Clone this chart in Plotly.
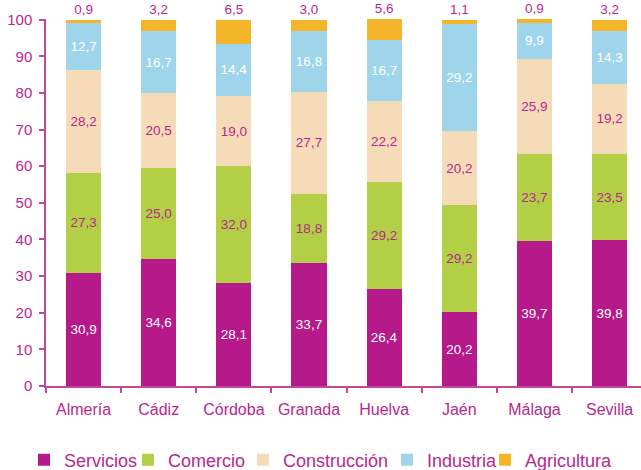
import plotly.graph_objects as go

provinces = ["Almería", "Cádiz", "Córdoba", "Granada", "Huelva", "Jaén", "Málaga", "Sevilla"]
servicios = [30.9, 34.6, 28.1, 33.7, 26.4, 20.2, 39.7, 39.8]
comercio = [27.3, 25.0, 32.0, 18.8, 29.2, 29.2, 23.7, 23.5]
construccion = [28.2, 20.5, 19.0, 27.7, 22.2, 20.2, 25.9, 19.2]
industria = [12.7, 16.7, 14.4, 16.8, 16.7, 29.2, 9.9, 14.3]
agricultura = [0.9, 3.2, 6.5, 3.0, 5.6, 1.1, 0.9, 3.2]

TXT = "#B8278F"
AX = "#C2489E"
FONT = "Liberation Sans, Arial, sans-serif"

series = [
    ("Servicios", servicios, "#B5198A", "white", "inside"),
    ("Comercio", comercio, "#B2CF46", TXT, "inside"),
    ("Construcción", construccion, "#F5DBB8", TXT, "inside"),
    ("Industria", industria, "#9ED5EB", "white", "inside"),
    ("Agricultura", agricultura, "#F4B52B", TXT, "outside"),
]

legend_text_px = [65, 169, 284, 428, 526]

fig = go.Figure()
for i, (name, vals, color, tcol, tpos) in enumerate(series):
    lg = "legend" if i == 0 else f"legend{i+1}"
    fig.add_trace(go.Bar(
        x=provinces, y=vals, name=name,
        marker=dict(color=color, line=dict(width=0)),
        text=[f"{v:.1f}".replace(".", ",") for v in vals],
        textposition=tpos,
        insidetextanchor="middle",
        textangle=0,
        constraintext="none",
        textfont=dict(color=tcol, size=13.5, family=FONT),
        cliponaxis=False,
        width=0.467,
        legend=lg,
        hoverinfo="skip",
    ))

layout_legends = {}
for i, px in enumerate(legend_text_px):
    key = "legend" if i == 0 else f"legend{i+1}"
    layout_legends[key] = dict(
        xref="container", yref="container",
        x=(px - 41) / 641, y=1 - 460 / 470,
        xanchor="left", yanchor="middle",
        orientation="h",
        font=dict(size=18, color=TXT, family=FONT),
        bgcolor="rgba(0,0,0,0)",
        borderwidth=0,
    )

fig.update_layout(
    barmode="stack",
    width=641, height=470,
    margin=dict(l=46, r=0, t=19, b=84),
    paper_bgcolor="white", plot_bgcolor="white",
    font=dict(family=FONT, color=TXT),
    showlegend=True,
    **layout_legends,
)

fig.update_xaxes(
    type="category",
    range=[-0.5, 7.418],
    automargin=False,
    showline=True, linecolor=AX, linewidth=1.5,
    ticks="outside", tickson="boundaries", ticklen=5, tickcolor=AX, tickwidth=1.5,
    tickfont=dict(size=16, color=TXT, family=FONT),
    ticklabelstandoff=8,
    showgrid=False, zeroline=False,
)
fig.update_yaxes(
    range=[0, 100.2], tickvals=list(range(0, 101, 10)),
    automargin=False,
    showline=True, linecolor=AX, linewidth=1.5,
    ticks="outside", ticklen=5, tickcolor=AX, tickwidth=1.5,
    tickfont=dict(size=15, color=TXT, family=FONT),
    ticklabelstandoff=4,
    showgrid=False, zeroline=False,
)

fig.write_html(
    "out.html",
    config={"displayModeBar": False},
    post_script="document.body.style.margin='0px';",
)
